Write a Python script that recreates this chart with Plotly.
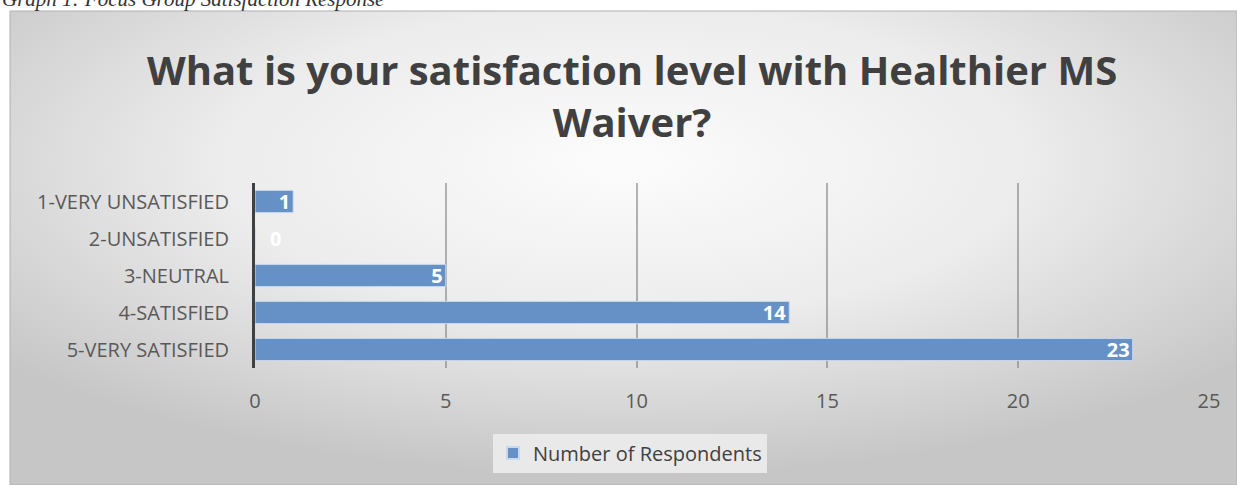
import base64
import plotly.graph_objects as go

categories = ["1-VERY UNSATISFIED", "2-UNSATISFIED", "3-NEUTRAL", "4-SATISFIED", "5-VERY SATISFIED"]
respondents = [1, 0, 5, 14, 23]
x_ticks = [0, 5, 10, 15, 20, 25]
series_name = "Number of Respondents"
title_text = "What is your satisfaction level with Healthier MS<br>Waiver?"
caption_text = "Graph 1: Focus Group Satisfaction Response"

W, H = 1237, 485
L, R, T, B = 255, 28, 183, 117
pw, ph = W - L - R, H - T - B

def px(xp):
    return (xp - L) / pw

def py(yp):
    return (H - B - yp) / ph

svg = (
    '<svg xmlns="http://www.w3.org/2000/svg" width="400" height="200" viewBox="0 0 400 200" preserveAspectRatio="none">'
    '<defs><radialGradient id="g" cx="0.5" cy="0.32" r="0.66">'
    '<stop offset="0" stop-color="#fcfcfc"/><stop offset="0.5" stop-color="#ececec"/>'
    '<stop offset="1" stop-color="#c6c6c6"/></radialGradient></defs>'
    '<rect width="400" height="200" fill="url(#g)"/></svg>'
)
src = "data:image/svg+xml;base64," + base64.b64encode(svg.encode()).decode()

label_font = dict(family="Open Sans", size=20, color="white", weight="bold")

fig = go.Figure(
    go.Bar(
        y=categories,
        x=respondents,
        orientation="h",
        name=series_name,
        marker=dict(color="#6591c7", line=dict(color="#c9d8ec", width=1)),
        text=[str(v) if v > 0 else "" for v in respondents],
        textposition="inside",
        insidetextanchor="end",
        textangle=0,
        constraintext="none",
        textfont=label_font,
        cliponaxis=False,
    )
)

annotations = [
    dict(
        text="<b>" + title_text + "</b>", xref="paper", yref="paper",
        x=px(632), y=py(96), xanchor="center", yanchor="middle",
        showarrow=False, align="center",
        font=dict(family="Open Sans", size=40, color="#404040"),
    ),
    dict(
        text="<i>" + caption_text + "</i>", xref="paper", yref="paper",
        x=px(0), y=py(-1), xanchor="left", yanchor="middle",
        showarrow=False,
        font=dict(family="Liberation Serif", size=21, color="#333333"),
    ),
]
for c, v in zip(categories, respondents):
    if v == 0:
        annotations.append(dict(
            text="<b>" + str(v) + "</b>", x=v, y=c, xref="x", yref="y",
            xanchor="left", yanchor="middle", xshift=13, showarrow=False,
            font=label_font,
        ))

fig.update_layout(
    width=W,
    height=H,
    margin=dict(l=L, r=R, t=T, b=B),
    paper_bgcolor="white",
    plot_bgcolor="rgba(0,0,0,0)",
    bargap=0.4,
    showlegend=True,
    legend=dict(
        x=px(630), y=py(453), xanchor="center", yanchor="middle",
        orientation="h",
        bgcolor="rgba(236,236,236,0.9)",
        font=dict(family="Open Sans", size=20, color="#404040"),
        itemsizing="constant",
    ),
    images=[dict(
        source=src, xref="paper", yref="paper",
        x=px(10), y=py(11), sizex=px(1237) - px(10), sizey=py(11) - py(485),
        sizing="stretch", layer="below", xanchor="left", yanchor="top",
    )],
    shapes=[dict(
        type="rect", xref="paper", yref="paper",
        x0=px(10), x1=px(1237), y0=py(485), y1=py(11),
        line=dict(color="#b0b0b0", width=1), layer="below",
    )],
    annotations=annotations,
)

fig.update_xaxes(
    range=[0, 25], tickvals=x_ticks, showgrid=True,
    gridcolor="rgba(120,120,120,0.55)", gridwidth=1.5,
    zeroline=False, showline=False,
    tickfont=dict(family="Open Sans", size=20, color="#595959"),
    ticks="outside", ticklen=15, tickcolor="rgba(0,0,0,0)",
)
fig.update_yaxes(
    categoryorder="array", categoryarray=categories, autorange="reversed",
    showline=True, linecolor="#404040", linewidth=3,
    tickfont=dict(family="Open Sans", size=20, color="#595959"),
    ticks="outside", ticklen=19, tickcolor="rgba(0,0,0,0)",
    showgrid=False,
)

fig.write_html("out.html", config={"displayModeBar": False},
               post_script="document.body.style.margin='0';")
